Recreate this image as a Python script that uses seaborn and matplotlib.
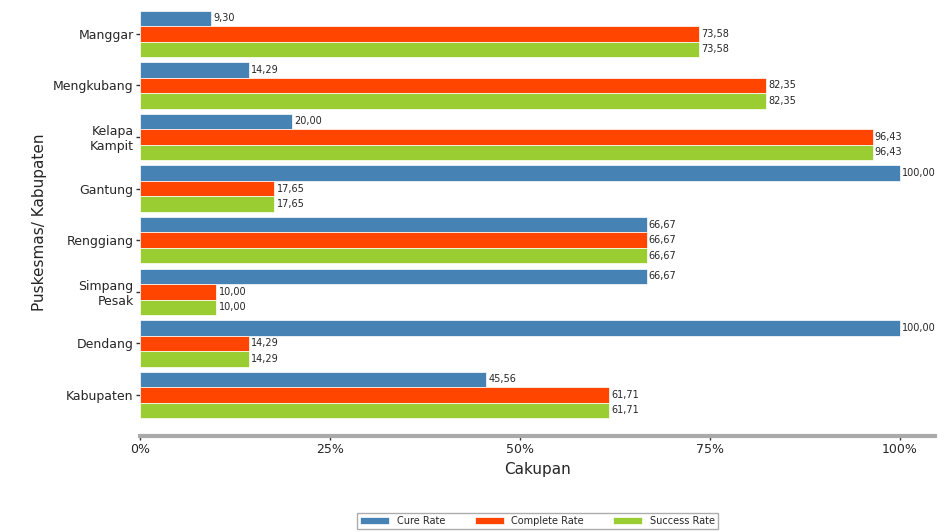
import numpy as np
import seaborn as sns
import matplotlib.pyplot as plt
import pandas as pd
from matplotlib.ticker import FuncFormatter

puskesmas = ["Manggar", "Mengkubang", "Kelapa\nKampit", "Gantung", "Renggiang",
             "Simpang\nPesak", "Dendang", "Kabupaten"]
cure_rate = [9.30, 14.29, 20.00, 100.00, 66.67, 66.67, 100.00, 45.56]
complete_rate = [73.58, 82.35, 96.43, 17.65, 66.67, 10.00, 14.29, 61.71]
success_rate = [73.58, 82.35, 96.43, 17.65, 66.67, 10.00, 14.29, 61.71]
series = ["Cure Rate", "Complete Rate", "Success Rate"]
colors = ["#4682B4", "#FF4500", "#9ACD32"]

df = pd.DataFrame({"Puskesmas": puskesmas, "Cure Rate": cure_rate,
                   "Complete Rate": complete_rate, "Success Rate": success_rate})
df_long = df.melt(id_vars="Puskesmas", var_name="Indikator", value_name="Nilai")

sns.set_style("white")
fig, ax = plt.subplots(1, 1, figsize=(9.49, 5.32), dpi=100)

sns.barplot(data=df_long, y="Puskesmas", x="Nilai", hue="Indikator", hue_order=series,
            palette=colors, saturation=1, orient="h", width=0.9, ax=ax,
            edgecolor="white", linewidth=0.5)

for cont in ax.containers:
    ax.bar_label(cont, labels=[f"{v:.2f}".replace(".", ",") for v in cont.datavalues],
                 fontsize=7, padding=1.5)

ax.set_xlim(0, 104.6)
ax.set_ylim(7.8, -0.5)
ax.xaxis.set_major_formatter(FuncFormatter(lambda v, p: f"{v:.0f}%"))
ax.set_xticks([0, 25, 50, 75, 100])
ax.tick_params(axis="both", labelsize=9, length=3, width=1, color="#333333",
               bottom=True, left=True, pad=2)
ax.set_xlabel("Cakupan", fontsize=11)
ax.set_ylabel("Puskesmas/ Kabupaten", fontsize=11)

sns.despine(ax=ax, left=True)
ax.spines["bottom"].set_color("#aaaaaa")
ax.spines["bottom"].set_linewidth(3)

ax.legend(loc="center", bbox_to_anchor=(0.5, -0.197), ncol=3, fontsize=7,
          frameon=True, edgecolor="#999999", fancybox=False, title=None,
          handlelength=3, columnspacing=3, borderpad=0.3)

plt.subplots_adjust(left=0.148, right=0.985, top=0.985, bottom=0.18)
fig.savefig("out.png", dpi=100)
